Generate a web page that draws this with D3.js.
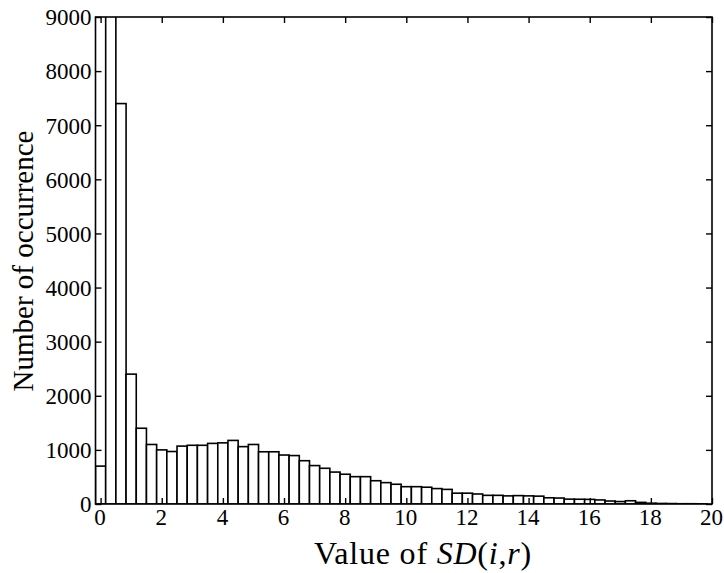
<!DOCTYPE html>
<html>
<head>
<meta charset="utf-8">
<script src="https://cdn.jsdelivr.net/npm/d3@7"></script>
<style>
  html, body { margin: 0; padding: 0; background: #fff; }
  svg { display: block; }
  svg text { font-family: "Liberation Serif", "Times New Roman", Times, serif !important; fill: #000; }
</style>
</head>
<body>
<svg id="chart" width="724" height="573"></svg>
<script>
// ---- data ----
const binCenters = [
  0, 0.333, 0.667, 1, 1.333, 1.667, 2, 2.333, 2.667, 3,
  3.333, 3.667, 4, 4.333, 4.667, 5, 5.333, 5.667, 6, 6.333,
  6.667, 7, 7.333, 7.667, 8, 8.333, 8.667, 9, 9.333, 9.667,
  10, 10.333, 10.667, 11, 11.333, 11.667, 12, 12.333, 12.667, 13,
  13.333, 13.667, 14, 14.333, 14.667, 15, 15.333, 15.667, 16, 16.333,
  16.667, 17, 17.333, 17.667, 18, 18.333, 18.667, 19, 19.333, 19.667
];
const counts = [
  700, 9800, 7400, 2400, 1400, 1100, 1000, 970, 1070, 1085,
  1085, 1120, 1130, 1175, 1060, 1100, 965, 965, 905, 895,
  800, 710, 660, 590, 550, 505, 505, 430, 395, 365,
  320, 320, 310, 285, 270, 200, 200, 185, 160, 160,
  150, 155, 150, 145, 115, 110, 90, 88, 85, 75,
  55, 45, 60, 30, 15, 10, 8, 5, 5, 3
];
const binWidth = 1 / 3;
const xTicks = [0, 2, 4, 6, 8, 10, 12, 14, 16, 18, 20];
const yTicks = [0, 1000, 2000, 3000, 4000, 5000, 6000, 7000, 8000, 9000];
const xLabel = ["Value of ", "SD", "(", "i", ",", "r", ")"];
const xLabelItalic = [false, true, false, true, false, true, false];
const yLabel = "Number of occurrence";

// ---- layout ----
const L = 95.5, R = 712, T = 17, B = 504;
const FONT = "'Liberation Serif', 'Times New Roman', Times, serif";
const svg = d3.select("#chart");

const x = d3.scaleLinear().domain([-1 / 6, 20]).range([L, R]);
const y = d3.scaleLinear().domain([0, 9000]).range([B, T]);

svg.append("defs").append("clipPath").attr("id", "plotclip")
  .append("rect").attr("x", L).attr("y", T).attr("width", R - L).attr("height", B - T);

// bars
svg.append("g").attr("clip-path", "url(#plotclip)")
  .selectAll("rect").data(binCenters).join("rect")
  .attr("x", (d) => x(d - binWidth / 2))
  .attr("width", (d) => x(d + binWidth / 2) - x(d - binWidth / 2))
  .attr("y", (d, i) => y(counts[i]))
  .attr("height", (d, i) => B - y(counts[i]))
  .attr("fill", "#fff")
  .attr("stroke", "#000")
  .attr("stroke-width", 1.6);

// axes (ticks inward on all sides)
const tickLen = 6;
const gx = svg.append("g").attr("transform", `translate(0,${B})`)
  .call(d3.axisBottom(x).tickValues(xTicks).tickSize(-tickLen).tickPadding(6).tickFormat(d3.format("d")));
const gxTop = svg.append("g").attr("transform", `translate(0,${T})`)
  .call(d3.axisTop(x).tickValues(xTicks).tickSize(-tickLen).tickFormat(""));
const gy = svg.append("g").attr("transform", `translate(${L},0)`)
  .call(d3.axisLeft(y).tickValues(yTicks).tickSize(-tickLen).tickPadding(5).tickFormat(d3.format("d")));
const gyR = svg.append("g").attr("transform", `translate(${R},0)`)
  .call(d3.axisRight(y).tickValues(yTicks).tickSize(-tickLen).tickFormat(""));

[gx, gxTop, gy, gyR].forEach(g => {
  g.attr("font-family", null).style("font-family", FONT).attr("font-size", 23);
  g.select(".domain").remove();
  g.selectAll(".tick line").attr("stroke", "#000").attr("stroke-width", 1.4);
});
gx.selectAll(".tick text").style("font-family", FONT).style("font-size", "23px").attr("dy", null).attr("y", 21).attr("dx", -1);
gy.selectAll(".tick text").style("font-family", FONT).style("font-size", "23px").attr("dy", "0.34em").attr("x", -4);

// frame
svg.append("rect").attr("x", L).attr("y", T).attr("width", R - L).attr("height", B - T)
  .attr("fill", "none").attr("stroke", "#000").attr("stroke-width", 1.6);

// axis labels
const xl = svg.append("text").attr("x", 423).attr("y", 564)
  .attr("text-anchor", "middle").attr("font-size", 32).attr("letter-spacing", 0.8);
xl.selectAll("tspan").data(xLabel).join("tspan")
  .text(d => d)
  .attr("font-style", (d, i) => xLabelItalic[i] ? "italic" : "normal")
  .attr("xml:space", "preserve");

svg.append("text")
  .attr("transform", `translate(33,261) rotate(-90)`)
  .attr("text-anchor", "middle").attr("font-size", 29)
  .text(yLabel);
</script>
</body>
</html>
